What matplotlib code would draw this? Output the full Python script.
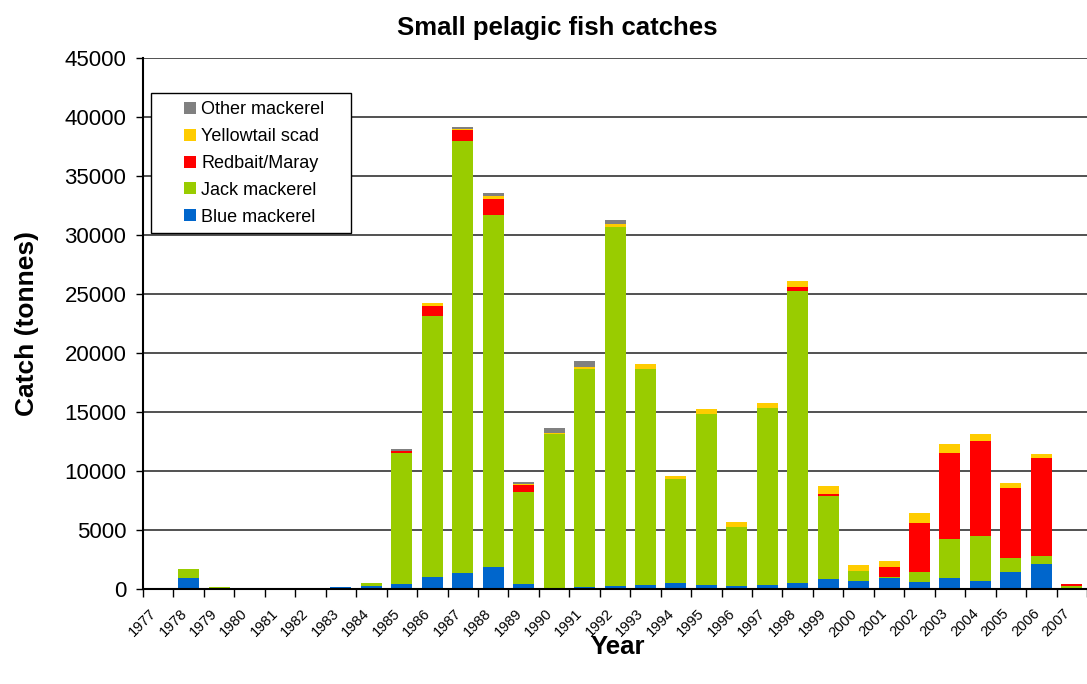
import numpy as np
import matplotlib.pyplot as plt
import matplotlib.transforms as mtransforms
from matplotlib.patches import Rectangle

# catch data (tonnes), 1977-2007
years = list(range(1977, 2008))
blue = [0, 900, 0, 0, 0, 0, 200, 280, 450, 1000, 1350, 1860, 400, 50, 200, 280,
        370, 540, 370, 280, 370, 540, 880, 650, 900, 620, 960, 710, 1470, 2160, 100]
jack = [0, 820, 200, 0, 0, 0, 0, 260, 11070, 22100, 36580, 29810, 7810, 13070, 18430, 30370,
        18260, 8770, 14450, 4950, 14960, 24690, 7000, 850, 80, 840, 3300, 3790, 1180, 670, 150]
redbait = [0, 0, 0, 0, 0, 0, 0, 0, 170, 900, 940, 1350, 590, 0, 0, 0,
           0, 0, 0, 0, 0, 400, 170, 0, 850, 4100, 7300, 8000, 5880, 8300, 200]
yellowtail = [0, 0, 0, 0, 0, 0, 0, 0, 0, 200, 80, 260, 90, 80, 170, 310,
              420, 260, 420, 420, 420, 450, 680, 500, 500, 840, 740, 600, 470, 270, 0]
other = [0, 0, 0, 0, 0, 100, 0, 0, 160, 0, 170, 250, 170, 430, 500, 290,
         0, 0, 0, 0, 0, 0, 0, 0, 0, 0, 0, 0, 0, 0, 0]

series = [("Blue mackerel", blue, "#0066CC"),
          ("Jack mackerel", jack, "#99CC00"),
          ("Redbait/Maray", redbait, "#FF0000"),
          ("Yellowtail scad", yellowtail, "#FFCC00"),
          ("Other mackerel", other, "#808080")]

plt.rcParams['font.family'] = ['Liberation Sans', 'DejaVu Sans']

fig = plt.figure(figsize=(10.87, 6.84), dpi=100)
ax = fig.add_axes([0.1316, 0.1389, 0.8684, 0.7763])

x = np.arange(len(years))
bottom = np.zeros(len(years))
bars = []
for name, vals, col in series:
    vals = np.array(vals, dtype=float)
    b = ax.bar(x, vals, width=0.69, bottom=bottom, color=col, label=name, zorder=3)
    bars.append(b)
    bottom += vals

ax.set_xlim(-0.5, len(years) - 0.5)
ax.set_ylim(0, 45000)
ax.set_yticks(np.arange(0, 45001, 5000))
ax.tick_params(axis='y', labelsize=16, direction='out', length=5, width=1, pad=7)
ax.yaxis.grid(True, color='#333333', linewidth=1.2, zorder=0)
ax.set_axisbelow(True)

ax.set_xticks(x)
ax.set_xticklabels([str(y) for y in years], rotation=45, ha='right',
                   rotation_mode='anchor', fontsize=10.5)
ax.tick_params(axis='x', length=0, pad=9)
ax.set_xticks(np.arange(-0.5, len(years)), minor=True)
ax.tick_params(axis='x', which='minor', length=6, width=1, direction='out')
shift = mtransforms.ScaledTranslation(-9 / 100, -5 / 100, fig.dpi_scale_trans)
for lbl in ax.get_xticklabels():
    lbl.set_transform(lbl.get_transform() + shift)

for s in ['top', 'right']:
    ax.spines[s].set_visible(False)
ax.spines['left'].set_linewidth(1.5)
ax.spines['bottom'].set_linewidth(1.5)
ax.spines['left'].set_zorder(4)
ax.spines['bottom'].set_zorder(4)

fig.text(557 / 1087, 1 - 28 / 684, "Small pelagic fish catches", fontsize=18.5,
         fontweight='bold', ha='center', va='center')
ax.set_xlabel("Year", fontsize=18.5, fontweight='bold')
ax.xaxis.set_label_coords(0.503, -0.11)
ax.xaxis.label.set_va('center')
ax.set_ylabel("Catch (tonnes)", fontsize=19, fontweight='bold', labelpad=18)

# legend with a separate frame
ax.add_patch(Rectangle((0.0085, 0.670), 0.2118, 0.264, transform=ax.transAxes,
                       facecolor='white', edgecolor='black', linewidth=1, zorder=5))
handles = [b for b in bars][::-1]
labels = [s[0] for s in series][::-1]
leg = ax.legend(handles, labels, loc='upper left', bbox_to_anchor=(0.0434, 0.919),
                frameon=False, fontsize=13, borderpad=0, borderaxespad=0,
                handlelength=0.65, handleheight=0.65, handletextpad=0.3,
                labelspacing=0.55)
leg.set_zorder(6)

fig.savefig("out.png", dpi=100)
